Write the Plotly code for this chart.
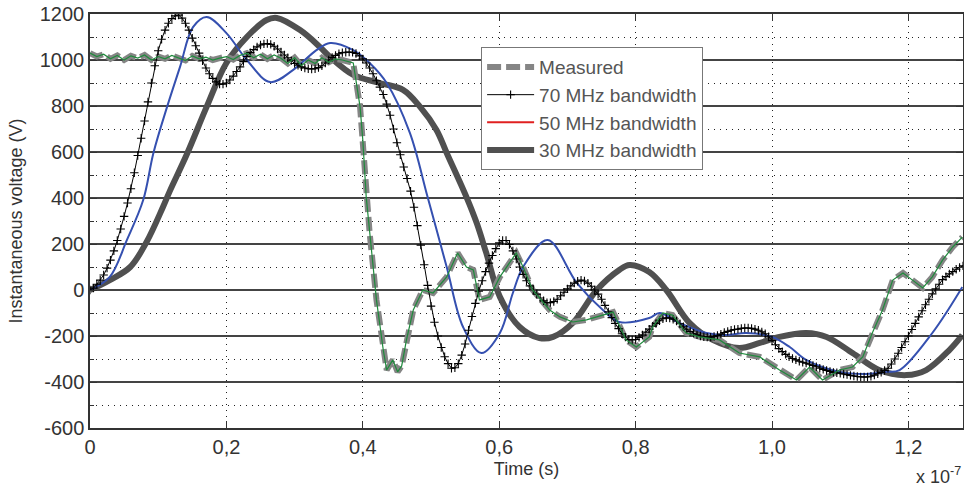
import plotly.graph_objects as go

# time axis in units of 1e-7 s
x_ticks = [0, 0.2, 0.4, 0.6, 0.8, 1.0, 1.2]
x_tick_labels = ["0", "0,2", "0,4", "0,6", "0,8", "1,0", "1,2"]
y_ticks = [-600, -400, -200, 0, 200, 400, 600, 800, 1000, 1200]
y_tick_labels = ["-600", "-400", "-200", "0", "200", "400", "600", "800", "1000", "1200"]

# 70 MHz bandwidth, one sample every 0.005 (20 samples per row)
t70 = [i / 200 for i in range(257)]
v70 = [0, 8, 25, 43, 65, 95, 130, 170, 215, 265, 320, 378, 440, 510, 585, 660, 735, 818, 900, 975,
       1040, 1090, 1130, 1160, 1180, 1192, 1195, 1182, 1160, 1130, 1095, 1062, 1030, 997, 965, 940, 920, 905, 895, 895,
       900, 913, 930, 950, 970, 993, 1015, 1032, 1045, 1057, 1065, 1070, 1072, 1068, 1060, 1048, 1035, 1022, 1010, 997,
       985, 977, 970, 965, 962, 961, 962, 967, 975, 987, 1000, 1011, 1020, 1027, 1032, 1034, 1035, 1033, 1028, 1018,
       1005, 987, 965, 940, 910, 882, 850, 808, 760, 700, 640, 588, 535, 485, 430, 360, 280, 195, 110, 20,
       -70, -140, -200, -250, -290, -320, -340, -338, -320, -283, -235, -175, -115, -58, -5, 40, 80, 117, 150, 180,
       205, 215, 215, 198, 170, 135, 100, 68, 40, 18, 0, -18, -35, -47, -55, -55, -50, -40, -25, -10,
       5, 18, 30, 38, 43, 39, 30, 16, 0, -18, -40, -67, -95, -120, -145, -168, -190, -205, -215, -217,
       -215, -206, -195, -183, -170, -157, -145, -134, -125, -121, -122, -127, -135, -147, -160, -170, -180, -188, -195, -200,
       -203, -205, -205, -202, -198, -192, -185, -180, -175, -172, -170, -167, -165, -165, -167, -170, -175, -182, -190, -203,
       -220, -238, -255, -268, -280, -290, -298, -304, -310, -314, -318, -323, -328, -334, -340, -345, -350, -354, -358, -360,
       -362, -365, -368, -371, -374, -376, -378, -378, -378, -375, -370, -364, -358, -350, -340, -322, -300, -275, -250, -225,
       -200, -172, -145, -117, -90, -64, -40, -17, 5, 25, 45, 58, 70, 80, 90, 98, 105]

# 50 MHz bandwidth
t50 = [0, 0.029, 0.054, 0.078, 0.093, 0.113, 0.132, 0.151, 0.171, 0.2,
       0.23, 0.264, 0.298, 0.332, 0.352, 0.386, 0.41, 0.435, 0.469, 0.495,
       0.523, 0.547, 0.574, 0.601, 0.62, 0.635, 0.671, 0.714, 0.752, 0.776,
       0.82, 0.835, 0.864, 0.904, 0.933, 0.962, 1.0, 1.026, 1.05, 1.099,
       1.138, 1.168, 1.187, 1.235, 1.279]
v50 = [0, 57, 217, 391, 596, 796, 970, 1143, 1187, 1117,
       1000, 904, 957, 1043, 1074, 1043, 987, 900, 683, 404,
       100, -161, -274, -187, -13, 100, 217, 30, -87, -139,
       -122, -100, -143, -187, -196, -187, -204, -248, -304, -356,
       -365, -356, -348, -187, 13]

# 30 MHz bandwidth
t30 = [0, 0.029, 0.059, 0.083, 0.107, 0.117, 0.142, 0.171, 0.2, 0.23,
       0.259, 0.274, 0.308, 0.337, 0.352, 0.386, 0.425, 0.459, 0.484, 0.508,
       0.523, 0.552, 0.567, 0.581, 0.601, 0.63, 0.659, 0.679, 0.708, 0.743,
       0.776, 0.791, 0.82, 0.845, 0.879, 0.913, 0.952, 0.982, 1.011, 1.05,
       1.08, 1.118, 1.157, 1.197, 1.226, 1.26, 1.279]
v30 = [0, 43, 100, 209, 361, 430, 590, 796, 987, 1100,
       1174, 1183, 1130, 1057, 1013, 935, 900, 870, 796, 696,
       596, 404, 291, 161, -30, -161, -209, -204, -143, 0,
       87, 109, 78, 0, -143, -217, -252, -230, -204, -187,
       -204, -274, -348, -370, -348, -261, -196]

# measured waveform
t_meas = [0, 0.01, 0.02, 0.03, 0.04, 0.05, 0.06, 0.07, 0.08, 0.09,
          0.10, 0.11, 0.12, 0.13, 0.14, 0.15, 0.16, 0.17, 0.18, 0.19,
          0.20, 0.21, 0.22, 0.23, 0.24, 0.25, 0.26, 0.27, 0.28, 0.29,
          0.30, 0.31, 0.32, 0.33, 0.34, 0.35, 0.36, 0.37, 0.38, 0.386,
          0.396, 0.40, 0.405, 0.41, 0.42, 0.43, 0.435, 0.444, 0.451, 0.457,
          0.464, 0.474, 0.488, 0.503, 0.523, 0.539, 0.552, 0.562, 0.571, 0.586,
          0.601, 0.625, 0.635, 0.649, 0.674, 0.689, 0.708, 0.728, 0.752, 0.767,
          0.786, 0.801, 0.82, 0.825, 0.84, 0.854, 0.874, 0.894, 0.923, 0.952,
          0.982, 1.011, 1.036, 1.055, 1.074, 1.099, 1.118, 1.133, 1.147, 1.162,
          1.177, 1.192, 1.206, 1.221, 1.235, 1.25, 1.265, 1.279]
v_meas = [1030, 1015, 1025, 1005, 1020, 1000, 1018, 1008, 1022, 1000,
          1015, 1005, 1020, 1010, 998, 1018, 1005, 1012, 1000, 1008,
          1015, 1002, 1020, 1030, 1010, 1025, 1005, 1022, 1008, 985,
          1010, 975, 1000, 985, 1010, 990, 1005, 1000, 990, 987,
          796, 652, 404, 248, -43, -261, -348, -304, -356, -330,
          -217, -87, 0, -13, 57, 161, 100, 87, -43, -30,
          57, 161, 100, 0, -87, -117, -139, -130, -109, -96,
          -217, -248, -204, -161, -100, -109, -187, -204, -217, -274,
          -291, -348, -391, -335, -391, -348, -335, -291, -187, -87,
          43, 74, 43, 9, 57, 130, 187, 230]

font = "Liberation Sans, Arial, sans-serif"

fig = go.Figure()

fig.add_trace(go.Scatter(x=t30, y=v30, mode='lines', name='30 MHz bandwidth',
                         line=dict(color='#505050', width=6, shape='spline'), legendrank=4))
fig.add_trace(go.Scatter(x=t_meas, y=v_meas, mode='lines', name='Measured',
                         line=dict(color='#858585', width=6, dash='14px,5px'), legendrank=1))
fig.add_trace(go.Scatter(x=t50, y=v50, mode='lines', showlegend=False,
                         line=dict(color='#3550b0', width=2, shape='spline')))
fig.add_trace(go.Scatter(x=t70, y=v70, mode='lines+markers', name='70 MHz bandwidth',
                         line=dict(color='black', width=1),
                         marker=dict(symbol='cross-thin', size=6, line=dict(color='black', width=1.1)),
                         legendrank=2))
fig.add_trace(go.Scatter(x=t_meas, y=v_meas, mode='lines', showlegend=False,
                         line=dict(color='#1f8a3c', width=1.2)))
# legend entry as drawn in the original (red sample)
fig.add_trace(go.Scatter(x=[None], y=[None], mode='lines', name='50 MHz bandwidth',
                         line=dict(color='#e02020', width=2), legendrank=3))

fig.update_layout(
    width=964, height=491,
    margin=dict(l=90, r=1, t=14, b=63),
    paper_bgcolor='white', plot_bgcolor='white',
    font=dict(family=font, size=20, color='#333333'),
    showlegend=True,
    legend=dict(x=0.448, y=0.92, xanchor='left', yanchor='top',
                bgcolor='white', bordercolor='#777777', borderwidth=1,
                font=dict(size=19, color='#555555'), itemwidth=47,
                tracegroupgap=0),
    xaxis=dict(range=[0, 1.28], tickvals=x_ticks, ticktext=x_tick_labels, automargin=False,
               showgrid=True, gridcolor='#222222', gridwidth=1, griddash='1px,5px',
               showline=True, linecolor='#333333', linewidth=1.5, mirror='ticks',
               ticks='inside', ticklen=7, tickcolor='#333333', zeroline=False,
               title=dict(text='Time (s)', standoff=6, font=dict(size=18))),
    yaxis=dict(range=[-600, 1200], tickvals=y_ticks, ticktext=y_tick_labels, automargin=False,
               showgrid=True, gridcolor='#444444', gridwidth=1.5,
               minor=dict(dtick=100, showgrid=True, gridcolor='#222222', griddash='1px,5px',
                          gridwidth=1, ticks='inside', ticklen=4, tickcolor='#333333'),
               showline=True, linecolor='#333333', linewidth=1.5, mirror='ticks',
               ticks='inside', ticklen=7, tickcolor='#333333', zeroline=False,
               title=dict(text='Instantaneous voltage (V)', standoff=12, font=dict(size=18))),
    annotations=[dict(text='x 10<sup>-7</sup>', xref='paper', yref='paper',
                      x=1.0, y=-0.148, xanchor='right', yanchor='bottom', showarrow=False,
                      font=dict(size=18, color='#333333'))],
)

# the page's default body margin would shift the fixed-size figure
fig.write_html("out.html", config={'displayModeBar': False},
               post_script="document.body.style.margin='0';")
